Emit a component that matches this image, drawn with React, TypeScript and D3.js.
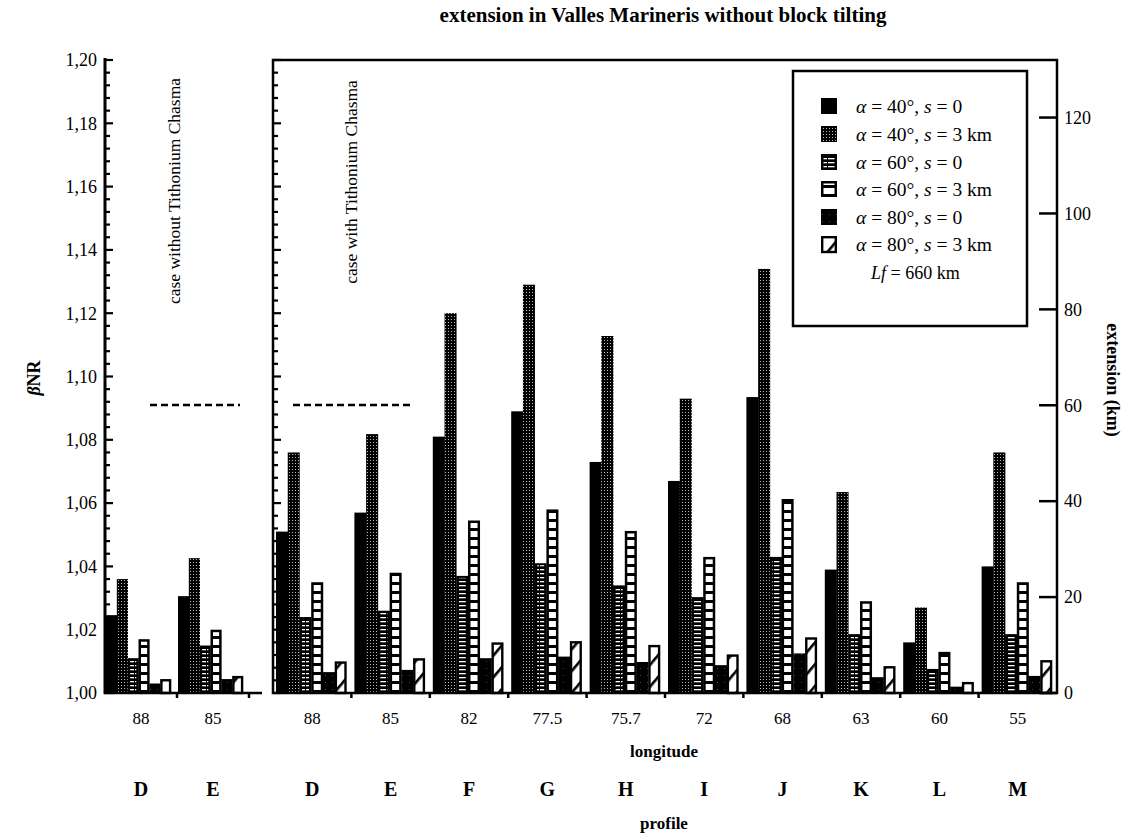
import React from 'react';
import * as d3 from 'd3';

// categories
const leftLongitudes = ['88', '85'];
const leftProfiles = ['D', 'E'];
const rightLongitudes = ['88', '85', '82', '77.5', '75.7', '72', '68', '63', '60', '55'];
const rightProfiles = ['D', 'E', 'F', 'G', 'H', 'I', 'J', 'K', 'L', 'M'];

// legend entries (alpha, s)
const seriesAlpha = ['40', '40', '60', '60', '80', '80'];
const seriesS = ['0', '3 km', '0', '3 km', '0', '3 km'];

// beta NR values, case without Tithonium Chasma
const leftA40s0 = [1.0246, 1.0306];
const leftA40s3 = [1.036, 1.0426];
const leftA60s0 = [1.011, 1.015];
const leftA60s3 = [1.017, 1.020];
const leftA80s0 = [1.003, 1.0044];
const leftA80s3 = [1.0044, 1.0054];

// beta NR values, case with Tithonium Chasma
const rightA40s0 = [1.051, 1.057, 1.081, 1.089, 1.073, 1.067, 1.0935, 1.039, 1.016, 1.040];
const rightA40s3 = [1.076, 1.0818, 1.120, 1.129, 1.1128, 1.093, 1.134, 1.0635, 1.027, 1.076];
const rightA60s0 = [1.024, 1.026, 1.037, 1.041, 1.034, 1.0303, 1.043, 1.0186, 1.0076, 1.0186];
const rightA60s3 = [1.035, 1.038, 1.0545, 1.058, 1.0512, 1.043, 1.0613, 1.029, 1.013, 1.035];
const rightA80s0 = [1.0066, 1.0073, 1.011, 1.0115, 1.0098, 1.0088, 1.0125, 1.005, 1.002, 1.0054];
const rightA80s3 = [1.010, 1.011, 1.016, 1.0164, 1.0152, 1.0122, 1.0176, 1.0085, 1.0035, 1.0104];

const leftSeries = [leftA40s0, leftA40s3, leftA60s0, leftA60s3, leftA80s0, leftA80s3];
const rightSeries = [rightA40s0, rightA40s3, rightA60s0, rightA60s3, rightA80s0, rightA80s3];

const yTicks = [1.0, 1.02, 1.04, 1.06, 1.08, 1.1, 1.12, 1.14, 1.16, 1.18, 1.2];
const extTicks = [0, 20, 40, 60, 80, 100, 120];
const faultLength = 660; // km
const caseLineBeta = 1.091;

const FONT = '"Liberation Serif", "Times New Roman", serif';

const y = d3.scaleLinear().domain([1.0, 1.2]).range([693, 60]);
const yExt = d3.scaleLinear().domain([0, 0.2 * faultLength]).range([693, 60]);
const xLeft = d3.scaleBand().domain(leftLongitudes).range([105, 249]);
const xRight = d3.scaleBand().domain(rightLongitudes).range([273, 1057]);

const fmt = (v: number) => d3.format('.2f')(v).replace('.', ',');

function Bar({ x, yTop, w, kind }: { x: number; yTop: number; w: number; kind: number }) {
  const base = y(1.0);
  const h = Math.max(0, base - yTop);
  if (kind === 0) return <rect x={x} y={yTop} width={w} height={h} fill="#000" />;
  if (kind === 1) return <rect x={x} y={yTop} width={w} height={h} fill="url(#dots)" />;
  if (kind === 2)
    return (
      <g>
        <rect x={x} y={yTop} width={w} height={h} fill="#000" />
        <rect x={x + 2.5} y={yTop + 2} width={Math.max(0, w - 5)} height={Math.max(0, h - 3)} fill="url(#hlines)" />
      </g>
    );
  if (kind === 3)
    return (
      <g>
        <rect x={x} y={yTop} width={w} height={h} fill="#000" />
        <rect x={x + 2.5} y={yTop + 2.5} width={Math.max(0, w - 5)} height={Math.max(0, h - 3)} fill="url(#boxes)" />
      </g>
    );
  if (kind === 4) return <rect x={x} y={yTop} width={w} height={h} fill="url(#sparse)" />;
  return (
    <g>
      <rect x={x + 1.2} y={yTop + 1.2} width={Math.max(0, w - 2.4)} height={Math.max(0, h - 1.2)} fill="url(#diag)" stroke="#000" strokeWidth={2.4} />
    </g>
  );
}

function Groups({ scale, series, pad }: { scale: d3.ScaleBand<string>; series: number[][]; pad: [number, number] }) {
  return (
    <g>
      {scale.domain().map((cat, i) => {
        const x0 = (scale(cat) as number) + pad[0];
        const inner = d3
          .scaleBand<number>()
          .domain(d3.range(series.length))
          .range([x0, (scale(cat) as number) + scale.bandwidth() - pad[1]]);
        return (
          <g key={cat}>
            {series.map((vals, k) => (
              <Bar key={k} x={inner(k) as number} yTop={y(vals[i])} w={inner.bandwidth() + 0.3} kind={k} />
            ))}
          </g>
        );
      })}
    </g>
  );
}

function LeftTicks({ x0, labels }: { x0: number; labels: boolean }) {
  const minor = d3.range(0, 51).map((i) => 1 + i * 0.004);
  return (
    <g>
      {minor.map((v, i) => (
        <line key={'m' + i} x1={x0} x2={x0 + (i % 5 === 0 ? 8 : 5)} y1={y(v)} y2={y(v)} stroke="#000" strokeWidth={2.2} />
      ))}
      {labels &&
        yTicks.map((v) => (
          <text key={v} x={x0 - 8} y={y(v)} dy="0.35em" textAnchor="end" fontSize={18} fontFamily={FONT}>
            {fmt(v)}
          </text>
        ))}
    </g>
  );
}

export default function App() {
  const base = y(1.0);
  const legendRows = [106, 134, 162, 189, 217, 244];
  return (
    <svg width={1127} height={833} style={{ position: 'absolute', left: 0, top: 0, background: '#fff' }}>
      <defs>
        <pattern id="dots" patternUnits="userSpaceOnUse" width={3} height={3}>
          <rect width={3} height={3} fill="#000" />
          <rect x={1} y={1} width={1} height={1} fill="#bbb" />
        </pattern>
        <pattern id="hlines" patternUnits="userSpaceOnUse" width={9} height={4}>
          <rect width={9} height={4} fill="#000" />
          <rect x={0} y={1} width={8} height={1.3} fill="#fff" />
        </pattern>
        <pattern id="boxes" patternUnits="userSpaceOnUse" width={10} height={9} y={base}>
          <rect width={10} height={9} fill="#fff" />
          <rect y={6} width={10} height={3} fill="#000" />
        </pattern>
        <pattern id="sparse" patternUnits="userSpaceOnUse" width={7} height={7}>
          <rect width={7} height={7} fill="#000" />
          <rect x={3} y={3} width={1} height={1} fill="#444" />
        </pattern>
        <pattern id="diag" patternUnits="userSpaceOnUse" width={14} height={14} patternTransform="rotate(40)">
          <rect width={14} height={14} fill="#fff" />
          <rect x={0} y={0} width={2.6} height={14} fill="#000" />
        </pattern>
      </defs>

      {/* title */}
      <text x={663} y={22} textAnchor="middle" fontSize={21} fontWeight="bold" fontFamily={FONT}>
        extension in Valles Marineris without block tilting
      </text>

      {/* bars */}
      <Groups scale={xLeft} series={leftSeries} pad={[1, 6]} />
      <Groups scale={xRight} series={rightSeries} pad={[3, 5]} />

      {/* left panel axes */}
      <line x1={105} x2={105} y1={58} y2={base + 1} stroke="#000" strokeWidth={3} />
      <line x1={104} x2={262} y1={base} y2={base} stroke="#000" strokeWidth={2.5} />
      {xLeft.domain().slice(1).concat(['end']).map((d, i) => {
        const xx = d === 'end' ? 249 : (xLeft(d) as number);
        return <line key={i} x1={xx} x2={xx} y1={base} y2={base + 5} stroke="#000" strokeWidth={2.5} />;
      })}
      <LeftTicks x0={105} labels={true} />

      {/* right panel frame */}
      <rect x={273} y={60} width={1057 - 273} height={base - 60} fill="none" stroke="#000" strokeWidth={2.5} />
      <LeftTicks x0={273} labels={false} />
      {xRight.domain().slice(1).map((d) => (
        <line key={d} x1={xRight(d)} x2={xRight(d)} y1={base} y2={base + 5} stroke="#000" strokeWidth={2.5} />
      ))}
      {extTicks.map((v) => (
        <g key={v}>
          <line x1={1039} x2={1057} y1={yExt(v)} y2={yExt(v)} stroke="#000" strokeWidth={2.5} />
          <text x={1064} y={yExt(v)} dy="0.35em" fontSize={18} fontFamily={FONT}>
            {v}
          </text>
        </g>
      ))}

      {/* case annotations */}
      <line x1={150} x2={240} y1={y(caseLineBeta)} y2={y(caseLineBeta)} stroke="#000" strokeWidth={2.5} strokeDasharray="7,4" />
      <line x1={293} x2={410} y1={y(caseLineBeta)} y2={y(caseLineBeta)} stroke="#000" strokeWidth={2.5} strokeDasharray="7,4" />
      <text transform="translate(180,191) rotate(-90)" textAnchor="middle" fontSize={17.5} fontFamily={FONT}>
        case without Tithonium Chasma
      </text>
      <text transform="translate(357,182) rotate(-90)" textAnchor="middle" fontSize={17.5} fontFamily={FONT}>
        case with Tithonium Chasma
      </text>

      {/* x labels */}
      {leftLongitudes.map((d, i) => (
        <g key={'l' + i}>
          <text x={(xLeft(d) as number) + xLeft.bandwidth() / 2} y={724} textAnchor="middle" fontSize={17} fontFamily={FONT}>
            {d}
          </text>
          <text x={(xLeft(d) as number) + xLeft.bandwidth() / 2} y={796} textAnchor="middle" fontSize={20} fontWeight="bold" fontFamily={FONT}>
            {leftProfiles[i]}
          </text>
        </g>
      ))}
      {rightLongitudes.map((d, i) => (
        <g key={'r' + i}>
          <text x={(xRight(d) as number) + xRight.bandwidth() / 2} y={724} textAnchor="middle" fontSize={17} fontFamily={FONT}>
            {d}
          </text>
          <text x={(xRight(d) as number) + xRight.bandwidth() / 2} y={796} textAnchor="middle" fontSize={20} fontWeight="bold" fontFamily={FONT}>
            {rightProfiles[i]}
          </text>
        </g>
      ))}
      <text x={664} y={757} textAnchor="middle" fontSize={17} fontWeight="bold" fontFamily={FONT}>
        longitude
      </text>
      <text x={664} y={829} textAnchor="middle" fontSize={17} fontWeight="bold" fontFamily={FONT}>
        profile
      </text>

      {/* axis titles */}
      <text transform="translate(40,378) rotate(-90)" textAnchor="middle" fontSize={18} fontWeight="bold" fontFamily={FONT}>
        <tspan fontStyle="italic">β</tspan>NR
      </text>
      <text transform="translate(1107,380) rotate(90)" textAnchor="middle" fontSize={18} fontWeight="bold" fontFamily={FONT}>
        extension (km)
      </text>

      {/* legend */}
      <rect x={793} y={71} width={234} height={255} fill="#fff" stroke="#000" strokeWidth={2.5} />
      {legendRows.map((ry, k) => (
        <g key={k}>
          <g transform={`translate(0, ${ry + 8 - base})`}>
            <Bar x={821} yTop={base - 16} w={16} kind={k} />
          </g>
          <text x={856} y={ry} dy="0.35em" fontSize={19.5} fontFamily={FONT}>
            <tspan fontStyle="italic">α</tspan> = {seriesAlpha[k]}°, <tspan fontStyle="italic">s</tspan> = {seriesS[k]}
          </text>
        </g>
      ))}
      <text x={871} y={273} dy="0.35em" fontSize={18} fontFamily={FONT}>
        <tspan fontStyle="italic">Lf</tspan> = {faultLength} km
      </text>
    </svg>
  );
}
